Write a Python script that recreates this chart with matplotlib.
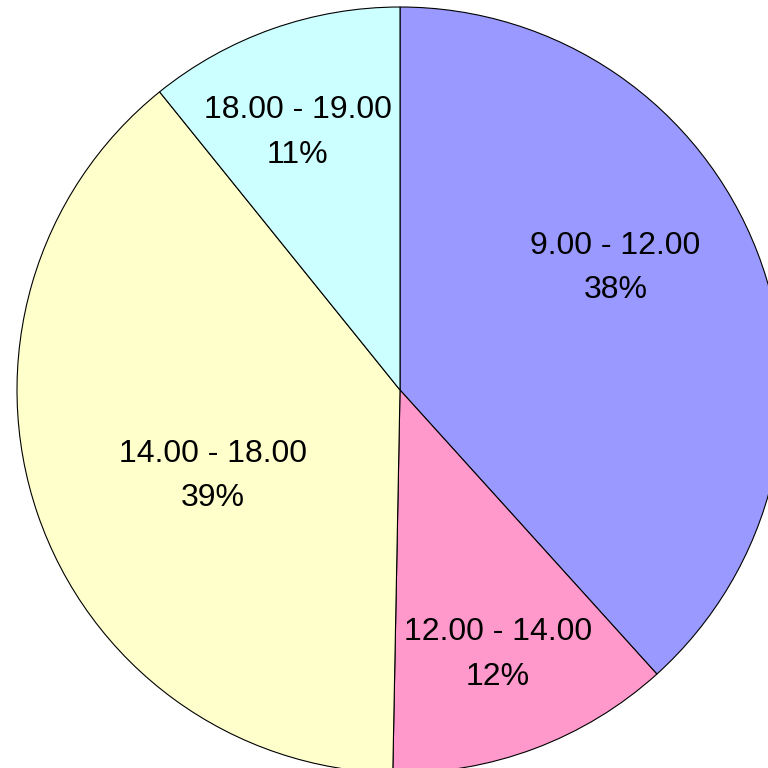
import matplotlib.pyplot as plt
import numpy as np

plt.rcParams['font.family'] = ['Liberation Sans', 'DejaVu Sans']

# Anteile je Zeitfenster (Prozent)
categories = ['9.00 - 12.00', '12.00 - 14.00', '14.00 - 18.00', '18.00 - 19.00']
shares = [38.3, 12.0, 38.9, 10.8]
pct_labels = ['38%', '12%', '39%', '11%']
colors = ['#9999FF', '#FF99CC', '#FFFFCC', '#CCFFFF']

# Label-Position: radialer Abstand und Winkelversatz zur Segmentmitte
label_radius = [0.65, 0.73, 0.535, 0.73]
label_shift_deg = [9, 0, 5, 2]

fig = plt.figure(figsize=(7.68, 7.68), dpi=100)
ax = fig.add_axes([0, 0, 1, 1])

wedges, _ = ax.pie(shares, colors=colors, startangle=90, counterclock=False,
                   radius=1.0, wedgeprops=dict(edgecolor='black', linewidth=0.8))

# Pixel-Mapping: Mitte bei (400, 390), Radius 383 px
r_px = 383.0
ax.set_xlim(-400 / r_px, 368 / r_px)
ax.set_ylim(-378 / r_px, 390 / r_px)
ax.set_aspect('auto')
ax.axis('off')

for w, cat, pct, rr, sh in zip(wedges, categories, pct_labels, label_radius, label_shift_deg):
    mid = np.deg2rad((w.theta1 + w.theta2) / 2 + sh)
    x, y = rr * np.cos(mid), rr * np.sin(mid)
    ax.text(x, y - 0.007, f"{cat}\n{pct}",
            ha='center', va='center', fontsize=23, linespacing=1.62)

fig.savefig('out.png', dpi=100)
